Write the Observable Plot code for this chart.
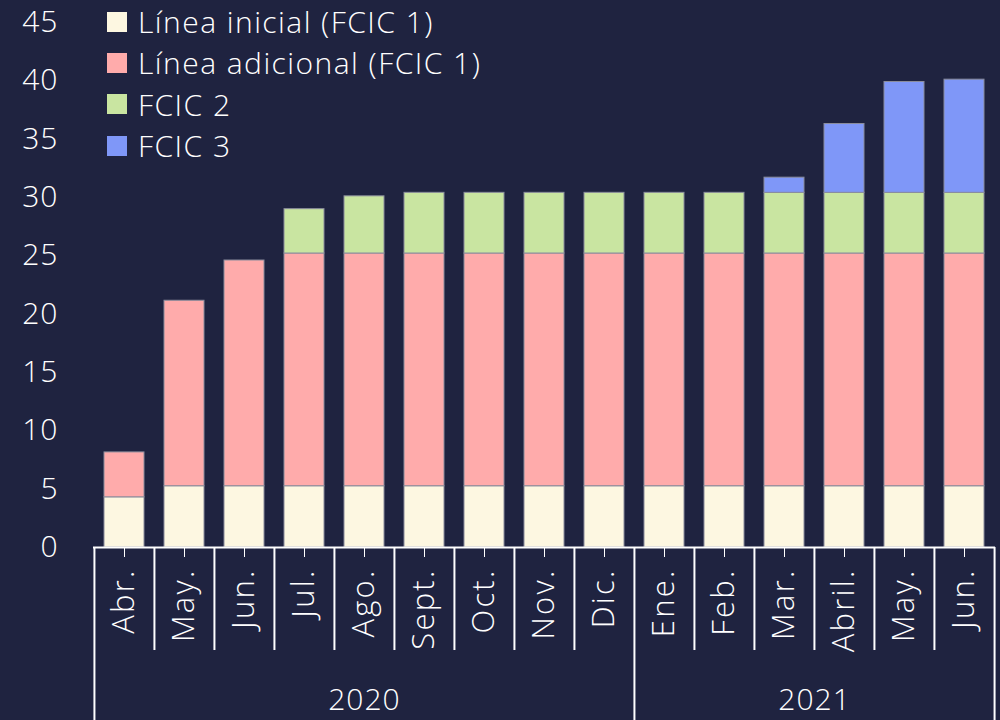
<!DOCTYPE html>
<html>
<head>
<meta charset="utf-8">
<script src="https://cdn.jsdelivr.net/npm/d3@7"></script>
<script src="https://cdn.jsdelivr.net/npm/@observablehq/plot@0.6"></script>
<style>
  html, body { margin: 0; padding: 0; background: #1f2340; }
  #wrap { position: relative; width: 1000px; height: 720px; background: #1f2340; overflow: hidden; font-family: "Open Sans", sans-serif; font-weight: 300; }
  #legend { position: absolute; left: 107px; top: 1px; color: #fff; font-size: 30px; letter-spacing: 1.45px; font-weight: 300; }
  .item { display: flex; align-items: center; height: 41.3px; }
  .sw { width: 20px; height: 20px; margin-right: 11px; flex: none; }
  svg text { font-weight: 300; letter-spacing: 1px; }
  svg g[aria-label="x-axis tick label"] text, svg g[aria-label="x-axis"] text { font-size: 31px; letter-spacing: 2.2px; }
</style>
</head>
<body>
<div id="wrap"><div id="legend"></div></div>
<script>
// ---- data ----
const months = ["Abr.","May.","Jun.","Jul.","Ago.","Sept.","Oct.","Nov.","Dic.","Ene.","Feb.","Mar.","Abril.","May.","Jun."];
const years  = ["2020","2020","2020","2020","2020","2020","2020","2020","2020","2021","2021","2021","2021","2021","2021"];
const seriesNames = ["Línea inicial (FCIC 1)", "Línea adicional (FCIC 1)", "FCIC 2", "FCIC 3"];
const seriesColors = ["#fdf7e1", "#ffabab", "#c9e5a1", "#7f97f8"];
const inicial   = [4.3, 5.25, 5.25, 5.25, 5.25, 5.25, 5.25, 5.25, 5.25, 5.25, 5.25, 5.25, 5.25, 5.25, 5.25];
const adicional = [3.85, 15.9, 19.35, 19.95, 19.95, 19.95, 19.95, 19.95, 19.95, 19.95, 19.95, 19.95, 19.95, 19.95, 19.95];
const fcic2     = [0, 0, 0, 3.8, 4.9, 5.2, 5.2, 5.2, 5.2, 5.2, 5.2, 5.2, 5.2, 5.2, 5.2];
const fcic3     = [0, 0, 0, 0, 0, 0, 0, 0, 0, 0, 0, 1.3, 5.9, 9.5, 9.7];
const yTicks = [0, 5, 10, 15, 20, 25, 30, 35, 40, 45];

// ---- build table ----
const keys = months.map((m, i) => years[i] + "-" + m);
const seriesValues = [inicial, adicional, fcic2, fcic3];
const rows = [];
seriesNames.forEach((s, si) => {
  keys.forEach((k, i) => rows.push({key: k, series: s, value: seriesValues[si][i]}));
});

// ---- layout ----
const W = 1000, H = 720, mL = 93, mR = 5, mT = 22, mB = 173;
const step = (W - mL - mR) / keys.length;
const font = "'Open Sans', sans-serif";

// separators
const yearFirst = keys.filter((k, i) => i === 0 || years[i] !== years[i - 1]);
const monthSeps = keys.filter((k, i) => i > 0 && years[i] === years[i - 1]);
const lastKey = [keys[keys.length - 1]];

const uniqYears = [...new Set(years)];
const yearMarks = uniqYears.map(y => {
  const idx = years.map((v, i) => v === y ? i : -1).filter(i => i >= 0);
  const mid = (idx[0] + idx[idx.length - 1]) / 2;
  return Plot.text([y], {
    x: () => keys[Math.floor(mid)], y: () => 0, text: d => d,
    dx: (mid % 1) * step, dy: 153, fill: "#fff", fontSize: 30, fontWeight: 300, lineAnchor: "middle"
  });
});

const chart = Plot.plot({
  width: W, height: H,
  marginLeft: mL, marginRight: mR, marginTop: mT, marginBottom: mB,
  style: {background: "transparent", color: "#ffffff", fontFamily: font, fontSize: "30px", overflow: "visible"},
  x: {domain: keys, paddingInner: 0.335, paddingOuter: 0.1675, label: null,
      tickSize: 10, tickRotate: -90, tickPadding: 11, tickFormat: k => k.split("-").slice(1).join("-")},
  y: {domain: [0, 45], ticks: yTicks, tickSize: 0, tickPadding: 35, label: null},
  color: {domain: seriesNames, range: seriesColors},
  marks: [
    Plot.barY(rows, {x: "key", y: "value", fill: "series", stroke: "#8a8c9c", strokeWidth: 1}),
    Plot.ruleY([0], {stroke: "#fff", strokeWidth: 2}),
    Plot.ruleX(monthSeps, {x: d => d, y1: 0, y2: 0, dx: -step / 2, insetBottom: -103, stroke: "#fff", strokeWidth: 2}),
    Plot.ruleX(yearFirst, {x: d => d, y1: 0, y2: 0, dx: -step / 2, insetBottom: -mB, stroke: "#fff", strokeWidth: 2}),
    Plot.ruleX(lastKey, {x: d => d, y1: 0, y2: 0, dx: step / 2, insetBottom: -mB, stroke: "#fff", strokeWidth: 2}),
    ...yearMarks
  ]
});
document.getElementById("wrap").prepend(chart);
chart.style.position = "absolute";
chart.style.left = "0px";
chart.style.top = "0px";

// legend
const legend = document.getElementById("legend");
seriesNames.forEach((s, i) => {
  const it = document.createElement("div");
  it.className = "item";
  it.innerHTML = `<span class="sw" style="background:${seriesColors[i]}"></span><span>${s}</span>`;
  legend.appendChild(it);
});
</script>
</body>
</html>
